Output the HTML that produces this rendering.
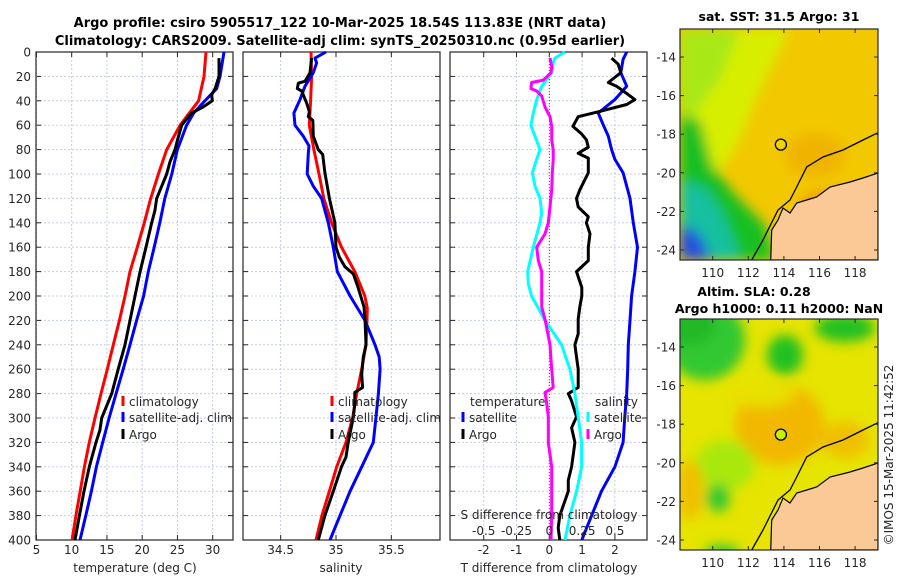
<!DOCTYPE html>
<html><head><meta charset="utf-8"><style>
html,body{margin:0;padding:0;background:#fff;}
svg{display:block;font-family:"DejaVu Sans","Liberation Sans",sans-serif;}
</style></head><body>
<svg id="fig" width="900" height="580" viewBox="0 0 900 580">
<defs>
<filter id="blur6" x="-20%" y="-20%" width="140%" height="140%"><feGaussianBlur stdDeviation="6"/></filter>
<clipPath id="clipSST"><rect x="680" y="29" width="198" height="231"/></clipPath>
<clipPath id="clipSLA"><rect x="680" y="319" width="198" height="231"/></clipPath>
</defs>
<text x="340" y="27" text-anchor="middle" font-size="13" font-weight="bold" fill="#000">Argo profile: csiro 5905517_122 10-Mar-2025 18.54S 113.83E (NRT data)</text>
<text x="340" y="45" text-anchor="middle" font-size="13" font-weight="bold" fill="#000">Climatology: CARS2009. Satellite-adj clim: synTS_20250310.nc (0.95d earlier)</text>
<g id="layer"></g>
</svg>
<script>
// ---------- data ----------
const depthTicks=[0,20,40,60,80,100,120,140,160,180,200,220,240,260,280,300,320,340,360,380,400];
const tTicks=[5,10,15,20,25,30];
const sTicks=[34.5,35,35.5];
const dTTicks=[-2,-1,0,1,2];
const dSTicks=[-0.5,-0.25,0,0.25,0.5];
const dSTickLabels=["-0.5","-0.25","0","0.25","0.5"];

const climTDepth=[0,20,40,60,80,100,120,140,160,180,200,220,240,260,280,300,320,340,360,380,400];
const climTVal=[29.05,28.77,28.0,25.37,23.48,22.3,21.2,20.3,19.3,18.27,17.56,16.76,15.9,15.05,14.16,13.3,12.5,11.8,11.2,10.6,10.05];
const satTDepth=[0,20,30,40,50,60,80,100,120,140,160,180,200,220,240,260,280,300,320,340,360,380,400];
const satTVal=[31.6,31.04,30.57,28.9,27.3,26.3,25.0,24.2,23.2,22.5,21.7,20.87,20.2,19.2,18.27,17.3,16.3,15.3,14.4,13.5,12.8,12.0,11.18];
const argoTDepth=[5,20,30,35,40,45,50,55,60,70,80,90,100,110,120,130,140,160,180,200,220,240,260,280,290,300,310,320,340,360,380,400];
const argoTVal=[30.9,30.9,30.34,29.86,29.95,28.67,27.0,26.3,25.6,25.1,24.65,23.94,23.47,22.76,22.05,21.8,21.35,20.54,19.7,18.98,18.27,17.56,16.6,15.68,14.96,14.26,14.0,13.45,12.5,11.75,11.09,10.47];

const climSDepth=[0,20,40,60,80,100,120,140,160,180,200,210,220,240,260,280,300,320,340,360,380,400];
const climSVal=[34.774,34.78,34.771,34.759,34.80,34.846,34.89,34.96,35.05,35.17,35.26,35.283,35.28,35.271,35.232,35.187,35.15,35.09,35.006,34.94,34.873,34.819];
const satSDepth=[0,5,9,17,28,39,50,60,69,77,83,100,110,120,140,160,180,200,220,240,250,260,280,300,320,340,360,380,400];
const satSVal=[34.91,34.81,34.825,34.795,34.72,34.675,34.62,34.63,34.705,34.756,34.75,34.74,34.795,34.87,34.93,34.976,35.012,35.127,35.262,35.352,35.39,35.398,35.383,35.36,35.337,35.232,35.127,35.036,34.946];
const argoSDepth=[5,17,24,25.5,30,32,42,49,53,56,69,80,84,99,120,140,160,168,176,182,193,209,219,240,250,264,275,279,288,299,320,332,340,360,380,400];
const argoSVal=[34.78,34.765,34.72,34.66,34.65,34.69,34.735,34.76,34.75,34.79,34.795,34.84,34.88,34.90,34.94,34.99,35.0,35.03,35.08,35.157,35.20,35.253,35.262,35.271,35.247,35.232,35.24,35.17,35.17,35.157,35.11,35.09,35.05,34.976,34.90,34.84];

const satDTDepth=[0,6,17,28,39,50,60,69,80,88,99,120,140,160,180,200,220,240,260,280,300,320,340,360,380,400];
const satDTVal=[2.36,2.25,2.18,2.36,2.0,1.49,1.65,1.8,1.9,2.0,2.25,2.46,2.56,2.69,2.61,2.51,2.46,2.41,2.39,2.36,2.30,2.25,2.0,1.59,1.29,0.99];
const argoDTDepth=[5,10,17,25,28,34,39,43,49,53,61,67,72,78,83,87,94,99,113,120,127,135,140,149,160,171,180,193,200,209,219,231,240,250,260,275,280,286,299,308,320,340,351,360,380,390,400];
const argoDTVal=[1.90,2.10,2.18,1.80,2.05,2.36,2.61,2.36,1.49,0.88,0.72,0.98,1.13,1.19,0.88,1.19,1.19,1.19,0.93,0.83,0.88,1.19,1.13,1.24,1.19,1.19,0.83,0.99,0.99,0.93,0.88,0.88,0.78,0.83,0.88,0.88,0.58,0.68,0.83,0.68,0.78,0.68,0.58,0.58,0.32,0.27,0.32];
const satDSDepth=[0,5,9,17,28,39,50,60,69,80,88,99,110,120,132,140,160,180,190,200,220,240,260,280,300,320,340,360,380,400];
const satDSVal=[0.119,0.043,0.030,0.018,-0.058,-0.096,-0.122,-0.14,-0.109,-0.071,-0.096,-0.129,-0.109,-0.071,-0.058,-0.071,-0.122,-0.165,-0.16,-0.135,-0.033,0.094,0.157,0.195,0.221,0.246,0.246,0.208,0.157,0.119];
const argoDSDepth=[5,12,17,23,25,30,32,36,45,53,61,72,80,88,99,113,127,140,149,160,171,180,193,209,219,240,260,275,279,288,299,320,340,360,380,400];
const argoDSVal=[0.005,0.018,0.013,-0.046,-0.135,-0.14,-0.096,-0.058,-0.033,0.005,0.018,0.018,0.030,0.030,0.023,0.018,0.005,-0.008,-0.033,-0.096,-0.084,-0.058,-0.058,-0.058,-0.033,0.005,0.018,0.030,-0.033,-0.020,-0.008,-0.008,0.018,0.018,0.018,0.013];

const latTicks=[-14,-16,-18,-20,-22,-24];
const lonTicks=[110,112,114,116,118];
const argoLon=113.83, argoLat=-18.54;

// ---------- scales ----------
const PT=52, PB=540;
const yD=d=>PT+d*(PB-PT)/400;
const xT=t=>71.7+(t-10)*7.05;
const xS=s=>336+(s-35)*110.7;
const xDT=v=>549.3+v*32.8;
const xDS=v=>549.3+v*131.2;
const mapX=lon=>712.7+(lon-110)*17.8;
const mapY=(lat,top)=>top+28+(-14-lat)*19.3;

const NS="http://www.w3.org/2000/svg";
const layer=document.getElementById('layer');
function mk(tag,attrs,parent){const e=document.createElementNS(NS,tag);for(const k in attrs)e.setAttribute(k,attrs[k]);(parent||layer).appendChild(e);return e;}
function txt(x,y,s,size,anchor,parent){const e=mk('text',{x:x,y:y,'font-size':size,'text-anchor':anchor,fill:'#262626'},parent);e.textContent=s;return e;}

const panels=[{x0:36,x1:233,xs:xT,ticks:tTicks,name:'temperature-panel'},{x0:243,x1:440,xs:xS,ticks:sTicks,name:'salinity-panel'},{x0:450,x1:647,xs:xDT,ticks:dTTicks,name:'difference-panel'}];
panels.forEach((p,i)=>{
  const g=mk('g',{});
  
  
  depthTicks.forEach(d=>{
    const l=mk('line',{x1:p.x0,x2:p.x1,y1:yD(d),y2:yD(d),stroke:'#c5cde6','stroke-width':1,'stroke-dasharray':'2,2'},g);
    
    
    mk('line',{x1:p.x0,x2:p.x0+5,y1:yD(d),y2:yD(d),stroke:'#262626'},g);
    mk('line',{x1:p.x1-5,x2:p.x1,y1:yD(d),y2:yD(d),stroke:'#262626'},g);
  });
  p.ticks.forEach(t=>{
    const x=p.xs(t);
    const l=mk('line',{x1:x,x2:x,y1:PT,y2:PB,stroke:'#c5cde6','stroke-width':1,'stroke-dasharray':'2,2'},g);
    
    
    mk('line',{x1:x,x2:x,y1:PB,y2:PB-5,stroke:'#262626'},g);
    mk('line',{x1:x,x2:x,y1:PT,y2:PT+5,stroke:'#262626'},g);
    const lb=txt(x,554,String(t),12,'middle',g);
    
    
  });
  const fr=mk('rect',{x:p.x0,y:PT,width:p.x1-p.x0,height:PB-PT,fill:'none',stroke:'#262626','stroke-width':1.2},g);
  
  
});
depthTicks.forEach(d=>{
  const lb=txt(31,yD(d)+4.5,String(d),12,'end');
  
  
});
let xl=txt(135,572,'temperature (deg C)',12,'middle');


xl=txt(341,572,'salinity',12,'middle');


xl=txt(549,572,'T difference from climatology',12,'middle');



const zl=mk('line',{x1:xDT(0),x2:xDT(0),y1:PT,y2:PB,stroke:'#555','stroke-width':1,'stroke-dasharray':'1,2'});



function series(depths,vals,xs,color,name,w){
  const pts=depths.map((d,i)=>xs(vals[i]).toFixed(1)+','+yD(d).toFixed(1)).join(' ');
  const pl=mk('polyline',{points:pts,fill:'none',stroke:color,'stroke-width':w||3,'stroke-linejoin':'round'});
  
  
}
series(climTDepth,climTVal,xT,'#ff0000','climatology-temperature-line');
series(satTDepth,satTVal,xT,'#0000ff','satellite-temperature-line');
series(argoTDepth,argoTVal,xT,'#000000','argo-temperature-line');
series(climSDepth,climSVal,xS,'#ff0000','climatology-salinity-line');
series(satSDepth,satSVal,xS,'#0000ff','satellite-salinity-line');
series(argoSDepth,argoSVal,xS,'#000000','argo-salinity-line');
series(satDTDepth,satDTVal,xDT,'#0000ff','satellite-t-difference-line');
series(argoDTDepth,argoDTVal,xDT,'#000000','argo-t-difference-line');
series(satDSDepth,satDSVal,xDS,'#00ffff','satellite-s-difference-line');
series(argoDSDepth,argoDSVal,xDS,'#ff00ff','argo-s-difference-line');

let st=txt(549,519,'S difference from climatology',12,'middle');


dSTicks.forEach((v,i)=>{
  const lb=txt(xDS(v),535,dSTickLabels[i],12,'middle');
  
  
});

function legItem(x,y,color,label){
  const b=mk('line',{x1:x,x2:x,y1:y-10,y2:y,stroke:color,'stroke-width':3});
  
  
  const t=txt(x+6,y,label,12,'start');
  
  
}
legItem(123,406,'#ff0000','climatology');
legItem(123,422,'#0000ff','satellite-adj. clim');
legItem(123,439,'#000000','Argo');
legItem(332,406,'#ff0000','climatology');
legItem(332,422,'#0000ff','satellite-adj. clim');
legItem(332,439,'#000000','Argo');
let lh=txt(470,406,'temperature',12,'start');


lh=txt(595,406,'salinity',12,'start');


legItem(463,422,'#0000ff','satellite');
legItem(463,439,'#000000','Argo');
legItem(588,422,'#00ffff','satellite');
legItem(588,439,'#ff00ff','Argo');

// ---------- maps ----------
function drawMap(top,clip,name,blobs,circFill){
  const g=mk('g',{'clip-path':'url(#'+clip+')'});
  
  
  const bg=blobs.shift();
  mk('rect',{x:680,y:top,width:198,height:231,fill:bg},g);
  const bg2=mk('g',{filter:'url(#blur6)'},g);
  blobs.forEach(b=>{
    if(b.pts) mk('polygon',{points:b.pts.map(p=>p[0]+','+(p[1]+top-29)).join(' '),fill:b.c},bg2);
    else mk('ellipse',{cx:b.x,cy:b.y+top-29,rx:b.rx,ry:b.ry,fill:b.c},bg2);
  });
  const off=top-29;
  const land=[[770.7,260],[771.7,230],[778,220],[783,208],[790,213],[796.7,203],[806.7,200],[816.7,197],[830,187],[850,182],[863,178],[878,173],[878,260]];
  const lp=mk('polygon',{points:land.map(p=>p[0]+','+(p[1]+off)).join(' '),fill:'#fbc995',stroke:'#000','stroke-width':1.2},g);
  
  
  const cont=[[751.7,260],[763,240],[778,210],[790,200],[796.7,187],[806.7,167],[823,157],[843,150],[863,140],[878,132.7]];
  const cl=mk('polyline',{points:cont.map(p=>p[0]+','+(p[1]+off)).join(' '),fill:'none',stroke:'#000','stroke-width':1.3},g);
  
  
  const c=mk('circle',{cx:mapX(argoLon),cy:mapY(argoLat,top),r:5.5,fill:circFill,stroke:'#000','stroke-width':1.3});
  
  
  const fr=mk('rect',{x:680,y:top,width:198,height:231,fill:'none',stroke:'#262626','stroke-width':1.2});
  
  
  latTicks.forEach(l=>{
    const y=mapY(l,top);
    mk('line',{x1:680,x2:684,y1:y,y2:y,stroke:'#262626'});
    mk('line',{x1:874,x2:878,y1:y,y2:y,stroke:'#262626'});
    const t=txt(676,y+4.5,String(l),12,'end');
    
    
  });
  lonTicks.forEach(l=>{
    const x=mapX(l);
    mk('line',{x1:x,x2:x,y1:top,y2:top+4,stroke:'#262626'});
    mk('line',{x1:x,x2:x,y1:top+231,y2:top+227,stroke:'#262626'});
    const t=txt(x,top+248,String(l),12,'middle');
    
    
  });
}
drawMap(29,'clipSST','sst-map',['#f2c800',
  {pts:[[680,29],[790,29],[760,90],[735,150],[705,190],[680,190]],c:'#d8ee00'},
  {pts:[[680,29],[740,29],[720,80],[690,120],[680,120]],c:'#a8e818'},
  {pts:[[680,115],[700,120],[712,165],[735,195],[765,225],[775,260],[680,260]],c:'#18c020'},
  {pts:[[680,180],[705,188],[722,212],[735,245],[740,260],[680,260]],c:'#18c0a0'},
  {pts:[[680,225],[698,232],[712,260],[680,260]],c:'#2050e0'},
  {x:815,y:155,rx:30,ry:22,c:'#f0b400'},
  {x:840,y:205,rx:40,ry:14,c:'#ee9400'}
],'#f0d400');
drawMap(319,'clipSLA','sla-map',['#e6e400',
  {x:705,y:50,rx:40,ry:40,c:'#30c830'},
  {x:690,y:35,rx:25,ry:20,c:'#20b828'},
  {x:785,y:65,rx:18,ry:20,c:'#20c020'},
  {x:845,y:38,rx:30,ry:14,c:'#20c020'},
  {x:780,y:135,rx:45,ry:40,c:'#f2b800'},
  {x:725,y:175,rx:30,ry:25,c:'#a8e810'},
  {x:718,y:208,rx:12,ry:14,c:'#30c830'},
  {x:722,y:262,rx:18,ry:7,c:'#30c830'},
  {x:845,y:150,rx:25,ry:18,c:'#f0c000'},
  {x:690,y:200,rx:14,ry:30,c:'#f0c000'},
  {x:760,y:105,rx:35,ry:12,c:'#e8e000'}
],'#c8f000');

let mt=mk('text',{x:779,y:21,'font-size':12.5,'font-weight':'bold','text-anchor':'middle',fill:'#000'});
mt.textContent='sat. SST: 31.5 Argo: 31';


mt=mk('text',{x:754,y:296,'font-size':12.5,'font-weight':'bold','text-anchor':'middle',fill:'#000'});
mt.textContent='Altim. SLA: 0.28';


mt=mk('text',{x:779,y:313,'font-size':12.5,'font-weight':'bold','text-anchor':'middle',fill:'#000'});
mt.textContent='Argo h1000: 0.11 h2000: NaN';


const ts=mk('text',{x:0,y:0,'font-size':12,'text-anchor':'middle',fill:'#262626',transform:'translate(893,455) rotate(-90)'});
ts.textContent='©IMOS 15-Mar-2025 11:42:52';


</script>
</body></html>
